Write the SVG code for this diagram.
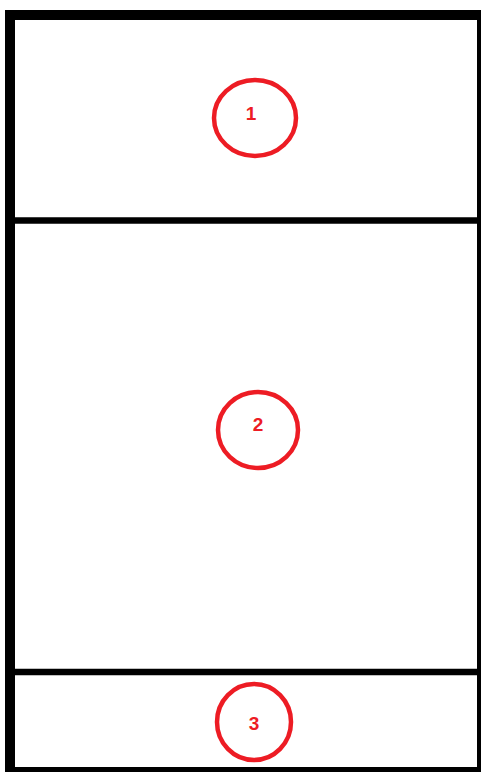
<svg xmlns="http://www.w3.org/2000/svg" width="481" height="772" viewBox="0 0 481 772">
<style>
.frame{fill:none;stroke:#000;stroke-width:10}
.div{stroke:#000;stroke-width:6.5}
.mark{fill:none;stroke:#ed1c24;stroke-width:4.5}
.num{fill:#ed1c24;font-family:"Liberation Sans",Arial,sans-serif;font-weight:bold;font-size:19px;text-anchor:middle}
</style>
<rect width="481" height="772" fill="#fff"/>
<g id="frame">
<rect class="frame" x="10" y="15" width="472" height="757"/>
<line class="div" x1="15" y1="220.5" x2="477" y2="220.5"/>
<line class="div" x1="15" y1="672" x2="477" y2="672"/>
</g>
<g id="zone1">
<ellipse class="mark" cx="255" cy="118" rx="41" ry="38"/>
<text class="num" x="251" y="120">1</text>
</g>
<g id="zone2">
<ellipse class="mark" cx="258" cy="430" rx="40" ry="38"/>
<text class="num" x="258" y="431">2</text>
</g>
<g id="zone3">
<ellipse class="mark" cx="254" cy="722" rx="37" ry="38"/>
<text class="num" x="254" y="730">3</text>
</g>
</svg>
